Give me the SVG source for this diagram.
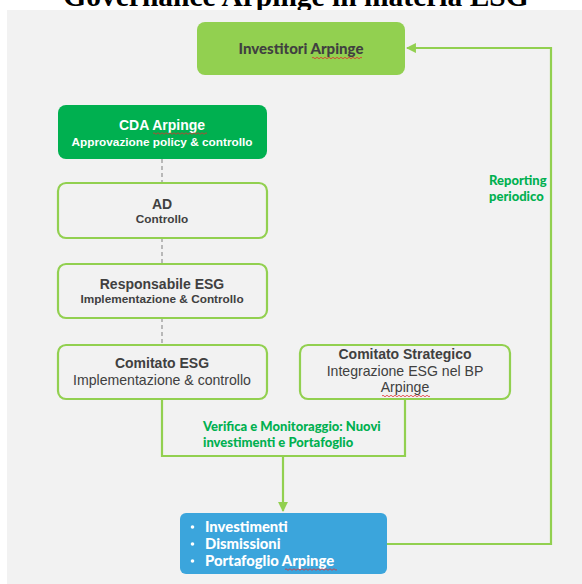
<svg xmlns="http://www.w3.org/2000/svg" width="582" height="584" viewBox="0 0 582 584">
  <defs>
    <style>
      .title { font-family: "Liberation Serif", "Times New Roman", serif; font-weight: bold; font-size: 29.5px; fill: #000; }
      .box { fill: #F2F2F2; stroke: #92D050; stroke-width: 2.2; }
      .sans { font-family: "Liberation Sans", Arial, sans-serif; fill: #404040; }
      .head { font-size: 14px; font-weight: bold; }
      .sub { font-size: 11.8px; font-weight: bold; }
      .reg { font-size: 14.1px; }
      .cal { font-family: Lato, "Open Sans", sans-serif; font-weight: 900; }
      .lbl { font-family: Lato, "Open Sans", sans-serif; font-weight: 900; font-size: 13px; fill: #00B050; }
      .link { fill: none; stroke: #92D050; stroke-width: 2.2; }
      .dash { fill: none; stroke: #7F7F7F; stroke-width: 1; stroke-dasharray: 4 3; }
      .squig { fill: none; stroke: #E03030; stroke-width: 0.8; }
      .dot { fill: #fff; }
    </style>
    <marker id="arrow" viewBox="0 0 10 10" refX="9" refY="5" markerWidth="4.5" markerHeight="4.5" orient="auto-start-reverse" markerUnits="strokeWidth">
      <path d="M0,0 L10,5 L0,10 z" fill="#92D050"/>
    </marker>
  </defs>

  <!-- page title, partly covered by the panel -->
  <text class="title" x="296" y="6" text-anchor="middle">Governance Arpinge in materia ESG</text>
  <rect x="7" y="10" width="575" height="574" fill="#F2F2F2"/>

  <!-- connectors -->
  <g id="connectors">
    <path class="dash" d="M162,159 V183 M162,238 V264 M162,318 V345"/>
    <path class="link" d="M162,399 V456 H405 V399"/>
    <path class="link" d="M283,456 V511" marker-end="url(#arrow)"/>
    <path class="link" d="M387,544 H551 V48 H407" marker-end="url(#arrow)"/>
    <text class="lbl" x="203" y="431">Verifica e Monitoraggio: Nuovi</text>
    <text class="lbl" x="203" y="447">investimenti e Portafoglio</text>
    <text class="lbl" x="489" y="185">Reporting</text>
    <text class="lbl" x="489" y="201">periodico</text>
  </g>

  <g id="investitori">
    <rect x="197" y="22" width="208" height="53" rx="8" fill="#92D050"/>
    <text class="cal" x="301" y="54" text-anchor="middle" font-size="15" fill="#404040">Investitori Arpinge</text>
    <path class="squig" d="M312,58 q1,-1.5 2,0 t2,0 t2,0 t2,0 t2,0 t2,0 t2,0 t2,0 t2,0 t2,0 t2,0 t2,0 t2,0 t2,0 t2,0 t2,0 t2,0 t2,0 t2,0 t2,0 t2,0 t2,0 t2,0 t2,0 t2,0"/>
  </g>

  <g id="cda">
    <rect x="58" y="105" width="209" height="54" rx="8" fill="#00B050"/>
    <text class="sans head" x="162" y="130" text-anchor="middle" style="fill:#fff">CDA Arpinge</text>
    <text class="sans sub" x="162" y="146" text-anchor="middle" style="fill:#fff">Approvazione policy &amp; controllo</text>
    <path class="squig" d="M153,133.5 q1,-1.5 2,0 t2,0 t2,0 t2,0 t2,0 t2,0 t2,0 t2,0 t2,0 t2,0 t2,0 t2,0 t2,0 t2,0 t2,0 t2,0 t2,0 t2,0 t2,0 t2,0 t2,0 t2,0 t2,0 t2,0 t2,0 t2,0 t2,0"/>
  </g>

  <g id="ad">
    <rect class="box" x="58" y="183" width="209" height="55" rx="8"/>
    <text class="sans head" x="162" y="209" text-anchor="middle">AD</text>
    <text class="sans sub" x="162" y="223" text-anchor="middle">Controllo</text>
  </g>

  <g id="responsabile">
    <rect class="box" x="58" y="264" width="209" height="54" rx="8"/>
    <text class="sans head" x="162" y="289" text-anchor="middle">Responsabile ESG</text>
    <text class="sans sub" x="162" y="303" text-anchor="middle">Implementazione &amp; Controllo</text>
  </g>

  <g id="comitato-esg">
    <rect class="box" x="58" y="345" width="209" height="54" rx="8"/>
    <text class="sans head" x="162" y="368" text-anchor="middle">Comitato ESG</text>
    <text class="sans reg" x="162" y="385" text-anchor="middle">Implementazione &amp; controllo</text>
  </g>

  <g id="comitato-strategico">
    <rect class="box" x="300" y="345" width="210" height="54" rx="8"/>
    <text class="sans head" x="405" y="359" text-anchor="middle">Comitato Strategico</text>
    <text class="sans reg" x="405" y="376" text-anchor="middle">Integrazione ESG nel BP</text>
    <text class="sans reg" x="405" y="392" text-anchor="middle">Arpinge</text>
    <path class="squig" d="M382,396 q1,-1.5 2,0 t2,0 t2,0 t2,0 t2,0 t2,0 t2,0 t2,0 t2,0 t2,0 t2,0 t2,0 t2,0 t2,0 t2,0 t2,0 t2,0 t2,0 t2,0 t2,0 t2,0 t2,0 t2,0 t2,0"/>
  </g>

  <g id="portafoglio">
    <rect x="180" y="513" width="207" height="61" rx="6" fill="#3BA5DC"/>
    <circle class="dot" cx="192.5" cy="527" r="1.8"/>
    <circle class="dot" cx="192.5" cy="544" r="1.8"/>
    <circle class="dot" cx="192.5" cy="561" r="1.8"/>
    <g class="cal" font-size="14.8" fill="#fff">
      <text x="205" y="532">Investimenti</text>
      <text x="205" y="549">Dismissioni</text>
      <text x="205" y="566">Portafoglio Arpinge</text>
    </g>
    <path class="squig" d="M285,569.5 q1,-1.5 2,0 t2,0 t2,0 t2,0 t2,0 t2,0 t2,0 t2,0 t2,0 t2,0 t2,0 t2,0 t2,0 t2,0 t2,0 t2,0 t2,0 t2,0 t2,0 t2,0 t2,0 t2,0 t2,0 t2,0 t2,0 t2,0"/>
  </g>
</svg>
